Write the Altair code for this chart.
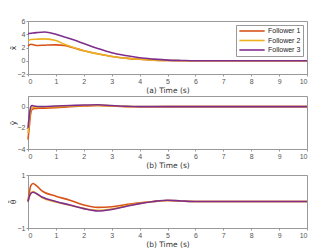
import altair as alt
import pandas as pd

followers = ["Follower 1", "Follower 2", "Follower 3"]
colors = ["#D95319", "#EDB120", "#7E2F8E"]

# Panel (a)
t_a = [0, 0.1, 0.3, 0.6, 1.0, 1.3, 1.6, 2, 2.5, 3, 3.5, 4, 4.5, 5, 5.5, 6, 7, 8, 9, 10]
a_f1 = [2.2, 2.5, 2.3, 2.35, 2.4, 2.3, 2.0, 1.5, 1.05, 0.65, 0.4, 0.22, 0.1, 0.04, 0.01, 0, 0, 0, 0, 0]
a_f2 = [3.0, 3.2, 3.25, 3.3, 3.05, 2.5, 2.05, 1.5, 1.05, 0.65, 0.4, 0.22, 0.1, 0.04, 0.01, 0, 0, 0, 0, 0]
a_f3 = [4.1, 4.15, 4.25, 4.35, 4.0, 3.6, 3.2, 2.6, 1.85, 1.2, 0.78, 0.45, 0.25, 0.1, 0.04, 0, 0, 0, 0, 0]

# Panel (b)
t_b = [0, 0.05, 0.1, 0.15, 0.2, 0.5, 1, 1.5, 2, 2.5, 3, 3.5, 4, 5, 6, 10]
b_f1 = [-3.1, -1.8, -0.6, -0.25, -0.2, -0.15, -0.1, -0.02, 0.05, 0.1, 0.05, 0.0, -0.02, 0, 0, 0]
b_f2 = [-2.5, -1.2, -0.3, -0.1, -0.05, -0.05, 0, 0.05, 0.1, 0.12, 0.08, 0.02, 0, 0, 0, 0]
b_f3 = [-2.0, -0.8, 0.0, 0.1, 0.05, 0.0, 0.05, 0.1, 0.15, 0.18, 0.1, 0.03, 0, 0, 0, 0]

# Panel (c)
t_c = [0, 0.05, 0.1, 0.18, 0.3, 0.5, 1, 1.5, 2, 2.5, 3, 3.5, 4, 4.5, 5, 5.5, 6, 10]
c_f1 = [0, 0.35, 0.6, 0.68, 0.6, 0.4, 0.2, 0.05, -0.13, -0.22, -0.2, -0.12, -0.05, 0.0, 0.04, 0.02, 0, 0]
c_f2 = [0, 0.2, 0.32, 0.38, 0.3, 0.15, -0.02, -0.14, -0.26, -0.33, -0.28, -0.17, -0.07, 0.0, 0.04, 0.02, 0, 0]
c_f3 = [0, 0.2, 0.3, 0.35, 0.3, 0.17, 0.0, -0.13, -0.27, -0.36, -0.3, -0.19, -0.08, 0.0, 0.05, 0.02, 0, 0]


def frame(t, series):
    rows = []
    for k, (name, vals) in enumerate(zip(followers, series)):
        for ti, v in zip(t, vals):
            rows.append({"t": ti, "v": v, "f": name, "o": k})
    return pd.DataFrame(rows)


color_scale = alt.Scale(domain=followers, range=colors)
H = 53


def panel(df, ydom, yticks, ytitle, xtitle, legend):
    leg = None
    if legend:
        leg = alt.Legend(
            title=None, orient="top-right", offset=4, fillColor="white",
            strokeColor="#999", padding=2, labelFontSize=7, symbolType="M-4,0L4,0",
            symbolSize=40, symbolStrokeWidth=1.6, rowPadding=1.5, labelColor="#222",
            symbolOffset=10, labelOffset=12,
        )
    return alt.Chart(df).mark_line(strokeWidth=1.6, interpolate="monotone").encode(
        x=alt.X("t:Q", scale=alt.Scale(domain=[0, 10], nice=False),
                axis=alt.Axis(values=list(range(0, 11)), title=xtitle, format="d")),
        y=alt.Y("v:Q", scale=alt.Scale(domain=ydom, nice=False),
                axis=alt.Axis(values=yticks, title=ytitle, format="d",
                              titleX=-11, titleY=H / 2)),
        color=alt.Color("f:N", scale=color_scale, legend=leg),
        order=alt.Order("o:Q"),
    ).properties(width=279, height=H)


p1 = panel(frame(t_a, [a_f1, a_f2, a_f3]), [-2, 6], [-2, 0, 2, 4, 6], "x̃", "(a) Time (s)", True)
p2 = panel(frame(t_b, [b_f1, b_f2, b_f3]), [-4, 1], [-4, -2, 0], "ỹ", "(b) Time (s)", False)
p3 = panel(frame(t_c, [c_f1, c_f2, c_f3]), [-1, 1], [-1, 0, 1], "θ̃", "(b) Time (s)", False)

chart = alt.vconcat(p1, p2, p3, spacing=1).resolve_legend(color="independent").properties(
    padding={"top": 8, "left": 0, "right": 0, "bottom": 0}
).configure_view(stroke="#999", strokeWidth=1).configure_axis(
    labelFontSize=7, titleFontSize=7.5, titleFontWeight="normal", labelColor="#555",
    titleColor="#333", domainColor="#999", tickColor="#999", tickSize=2, grid=False,
    labelPadding=1, titlePadding=2, labelFont="Liberation Sans", titleFont="DejaVu Sans",
).configure_axisY(titleAngle=-90).configure_legend(
    labelFont="Liberation Sans"
)

chart.save("out.html", embed_options={"renderer": "svg", "actions": False})
